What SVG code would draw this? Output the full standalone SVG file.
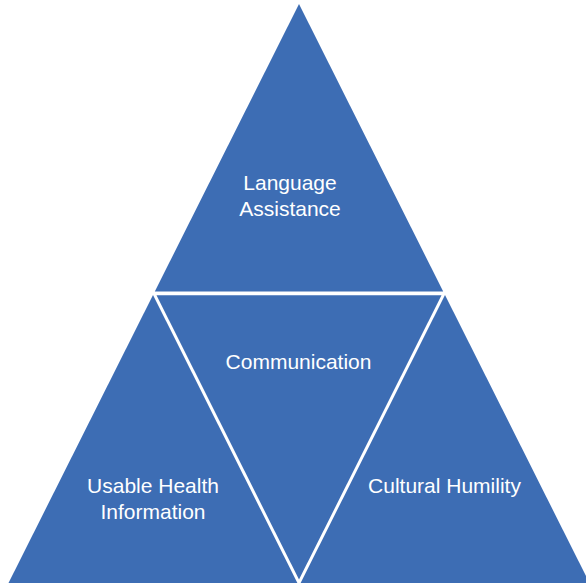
<svg xmlns="http://www.w3.org/2000/svg" width="586" height="583" viewBox="0 0 586 583">
  <style>
    .tri { fill: #3D6DB4; }
    .lbl { fill: #FFFFFF; font-family: "Liberation Sans", Arial, sans-serif; font-size: 21px; text-anchor: middle; }
  </style>
  <rect width="586" height="583" fill="#FFFFFF"/>
  <g id="language-assistance">
    <polygon class="tri" points="299,4 443.2,291.5 154.8,291.5"/>
    <text class="lbl" x="290" y="190">Language</text>
    <text class="lbl" x="290" y="216">Assistance</text>
  </g>
  <g id="communication">
    <polygon class="tri" points="156.5,295.3 441.5,295.3 299,579.6"/>
    <text class="lbl" x="298.5" y="369">Communication</text>
  </g>
  <g id="usable-health-information">
    <polygon class="tri" points="153,295 300.9,590 5,590"/>
    <text class="lbl" x="153" y="493">Usable Health</text>
    <text class="lbl" x="153" y="519">Information</text>
  </g>
  <g id="cultural-humility">
    <polygon class="tri" points="445,295 593,590 297.1,590"/>
    <text class="lbl" x="444.5" y="493">Cultural Humility</text>
  </g>
  <g id="connectors"/>
</svg>
